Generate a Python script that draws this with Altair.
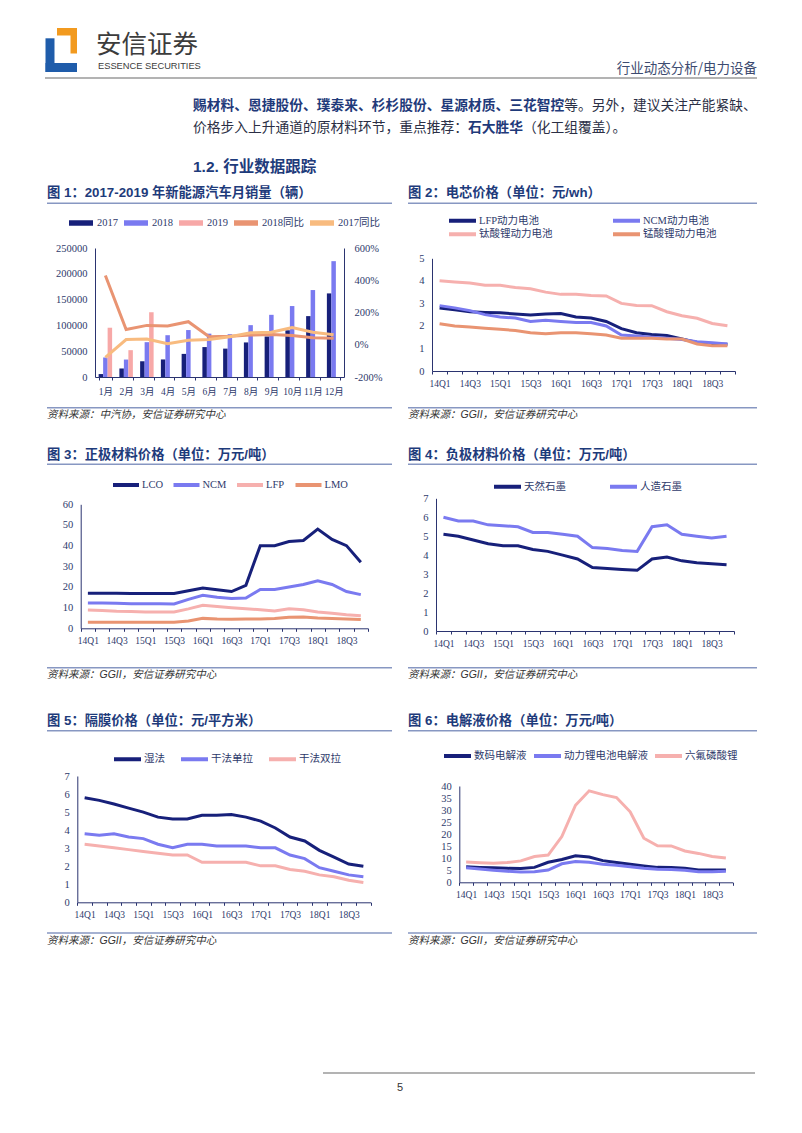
import altair as alt
import pandas as pd

# ---------------- page text ----------------
brand_cn = "安信证券"
brand_en = "ESSENCE SECURITIES"
header_right = "行业动态分析/电力设备"
body_line1 = [("赐材料、恩捷股份、璞泰来、杉杉股份、星源材质、三花智控", True), ("等。另外，建议关注产能紧缺、", False)]
body_line2 = [("价格步入上升通道的原材料环节，重点推荐：", False), ("石大胜华", True), ("（化工组覆盖）。", False)]
section_title = "1.2. 行业数据跟踪"
page_number = "5"

fig_titles = [
    "图 1：2017-2019 年新能源汽车月销量（辆）",
    "图 2：电芯价格（单位：元/wh）",
    "图 3：正极材料价格（单位：万元/吨）",
    "图 4：负极材料价格（单位：万元/吨）",
    "图 5：隔膜价格（单位：元/平方米）",
    "图 6：电解液价格（单位：万元/吨）",
]
fig_sources = [
    "资料来源：中汽协，安信证券研究中心",
    "资料来源：GGII，安信证券研究中心",
    "资料来源：GGII，安信证券研究中心",
    "资料来源：GGII，安信证券研究中心",
    "资料来源：GGII，安信证券研究中心",
    "资料来源：GGII，安信证券研究中心",
]

# ---------------- chart 1 data ----------------
months = ["1月", "2月", "3月", "4月", "5月", "6月", "7月", "8月", "9月", "10月", "11月", "12月"]
bar_series = ["2017", "2018", "2019"]
line_series = ["2018同比", "2017同比"]
sales_2017 = [5700, 16500, 30500, 34000, 44800, 58000, 55000, 67000, 78500, 90500, 118000, 162000]
sales_2018 = [37800, 33800, 67500, 81000, 91000, 84000, 83000, 100500, 120500, 137500, 168500, 224500]
sales_2019 = [95500, 52000, 125500]
yoy_2018 = [430, 95, 120, 117, 143, 50, 52, 60, 64, 58, 44, 40]
yoy_2017 = [-78, 32, 36, 7, 28, 32, 50, 74, 78, 106, 78, 62]
sales_ticks = [0, 50000, 100000, 150000, 200000, 250000]
pct_ticks = [-200, 0, 200, 400, 600]

# ---------------- quarterly data ----------------
quarters = ["14Q1", "14Q2", "14Q3", "14Q4", "15Q1", "15Q2", "15Q3", "15Q4", "16Q1", "16Q2",
            "16Q3", "16Q4", "17Q1", "17Q2", "17Q3", "17Q4", "18Q1", "18Q2", "18Q3", "18Q4"]

cell_names = ["LFP动力电池", "NCM动力电池", "钛酸锂动力电池", "锰酸锂动力电池"]
cell_lfp = [2.80, 2.72, 2.63, 2.60, 2.58, 2.53, 2.48, 2.53, 2.55, 2.40, 2.35, 2.20, 1.88, 1.70, 1.62, 1.57, 1.42, 1.27, 1.20, 1.19]
cell_ncm = [2.90, 2.80, 2.68, 2.50, 2.40, 2.35, 2.20, 2.25, 2.20, 2.15, 2.15, 2.00, 1.60, 1.55, 1.50, 1.45, 1.40, 1.30, 1.25, 1.20]
cell_lto = [4.00, 3.95, 3.90, 3.80, 3.80, 3.70, 3.65, 3.50, 3.40, 3.40, 3.35, 3.33, 3.00, 2.91, 2.90, 2.63, 2.45, 2.34, 2.11, 2.01]
cell_lmo = [2.10, 2.00, 1.95, 1.90, 1.85, 1.80, 1.70, 1.65, 1.70, 1.70, 1.65, 1.60, 1.45, 1.45, 1.45, 1.42, 1.42, 1.20, 1.12, 1.12]

cath_names = ["LCO", "NCM", "LFP", "LMO"]
cath_lco = [17.0, 17.0, 16.9, 16.8, 16.8, 16.8, 16.8, 18.2, 19.5, 18.7, 17.8, 20.8, 40.0, 40.0, 42.0, 42.5, 48.0, 43.0, 40.0, 32.0]
cath_ncm = [12.3, 12.2, 12.1, 11.9, 11.9, 11.9, 11.8, 14.0, 16.0, 15.0, 14.4, 14.7, 18.8, 18.8, 20.0, 21.2, 23.0, 21.2, 17.8, 16.3]
cath_lfp = [8.9, 8.6, 8.2, 8.1, 7.9, 7.9, 7.9, 9.4, 11.1, 10.5, 10.0, 9.5, 9.0, 8.4, 9.4, 9.0, 7.9, 7.3, 6.6, 6.1]
cath_lmo = [2.9, 2.9, 2.9, 2.9, 2.9, 2.9, 2.9, 3.5, 4.8, 4.5, 4.4, 4.5, 4.5, 4.7, 5.3, 5.5, 5.0, 4.8, 4.5, 4.2]

anode_names = ["天然石墨", "人造石墨"]
anode_nat = [5.1, 5.0, 4.8, 4.6, 4.5, 4.5, 4.3, 4.2, 4.0, 3.8, 3.35, 3.3, 3.25, 3.2, 3.8, 3.9, 3.7, 3.6, 3.55, 3.5]
anode_art = [6.0, 5.8, 5.8, 5.6, 5.55, 5.5, 5.2, 5.2, 5.1, 5.0, 4.4, 4.35, 4.25, 4.2, 5.5, 5.6, 5.1, 5.0, 4.9, 5.0]

sep_names = ["湿法", "干法单拉", "干法双拉"]
sep_wet = [5.8, 5.65, 5.45, 5.22, 5.0, 4.72, 4.62, 4.62, 4.82, 4.82, 4.87, 4.72, 4.5, 4.12, 3.62, 3.4, 2.88, 2.5, 2.12, 2.0]
sep_dry1 = [3.8, 3.72, 3.8, 3.62, 3.53, 3.22, 3.02, 3.22, 3.22, 3.12, 3.12, 3.12, 3.02, 3.02, 2.62, 2.42, 1.92, 1.72, 1.52, 1.42]
sep_dry2 = [3.22, 3.12, 3.02, 2.92, 2.82, 2.72, 2.62, 2.62, 2.22, 2.22, 2.22, 2.22, 2.02, 2.02, 1.82, 1.72, 1.52, 1.42, 1.22, 1.1]

ele_names = ["数码电解液", "动力锂电池电解液", "六氟磷酸锂"]
ele_digital = [6.5, 6.2, 6.0, 5.8, 5.7, 6.2, 8.3, 9.5, 11.0, 10.5, 9.0, 8.2, 7.5, 6.8, 6.2, 6.1, 5.8, 5.1, 5.1, 5.1]
ele_power = [6.0, 5.5, 5.0, 4.6, 4.3, 4.4, 5.1, 7.7, 8.6, 8.3, 7.5, 7.1, 6.5, 5.8, 5.4, 5.3, 5.0, 4.4, 4.4, 4.6]
ele_lipf6 = [8.4, 8.1, 7.9, 8.2, 8.9, 10.7, 11.3, 19.0, 32.0, 38.0, 36.4, 35.2, 29.3, 18.3, 15.2, 15.1, 13.0, 12.0, 10.7, 10.1]

# ---------------- styles ----------------
NAVY = "#17207A"
PERI = "#7A7AF0"
PINK = "#F6B0AE"
SALMON = "#E99472"
LORANGE = "#F8BB7F"
BAR19 = "#F7A8A7"
TITLE_C = "#1E3B7B"
RULE_C = "#8797C2"
AXIS_C = "#2B3470"
LABEL_C = "#2E3A6B"
SERIF = "Liberation Serif, Noto Sans CJK SC"
SANS = "Liberation Sans, Noto Sans CJK SC"
CJK = "Noto Sans CJK SC"
PW = 393  # panel width
QEXPR = "(substring(datum.value, 3, 4) == '1' || substring(datum.value, 3, 4) == '3') ? datum.value : ''"

one = pd.DataFrame({"k": [0]})


def text_layer(txt, x, y, size, color, weight="normal", style="normal", align="left", font=CJK):
    return alt.Chart(pd.DataFrame({"t": [txt]})).mark_text(
        align=align, baseline="middle", fontSize=size, color=color,
        fontWeight=weight, fontStyle=style, font=font
    ).encode(x=alt.value(x), y=alt.value(y), text="t:N")


def hrule(x1, x2, y, color, width):
    return alt.Chart(one).mark_rule(color=color, strokeWidth=width).encode(
        x=alt.value(x1), x2=alt.value(x2), y=alt.value(y))


def box(x1, x2, y1, y2, color):
    return alt.Chart(one).mark_rect(color=color).encode(
        x=alt.value(x1), x2=alt.value(x2), y=alt.value(y1), y2=alt.value(y2))


def x_axis(offset, expr=None, pad=4, size=9.5):
    kw = dict(orient="bottom", offset=offset, title=None, labelFont=SERIF, labelFontSize=size,
              labelColor=LABEL_C, domainColor=AXIS_C, domainWidth=1, tickColor=AXIS_C,
              tickSize=3, labelPadding=pad, tickBand="extent", labelAngle=0,
              labelOverlap=False, grid=False)
    if expr:
        kw["labelExpr"] = expr
    return alt.Axis(**kw)


def y_axis(offset, values, orient="left", fmt=None, expr=None, pad=8):
    kw = dict(orient=orient, offset=offset, values=values, title=None, labelFont=SERIF,
              labelFontSize=10.5, labelColor=LABEL_C, domainColor=AXIS_C, domainWidth=1,
              tickSize=0, labelPadding=pad, grid=False)
    if fmt:
        kw["format"] = fmt
    if expr:
        kw["labelExpr"] = expr
    return alt.Axis(**kw)


def decorations(idx, left, title_y, rule_y, src_rule_y, src_y):
    tx = 39 if left else 7
    rx2 = 384 if left else 356
    return [
        text_layer(fig_titles[idx], tx, title_y, 13.3, TITLE_C, weight="bold", font=SANS),
        hrule(tx, rx2, rule_y, RULE_C, 1.6),
        hrule(tx, rx2, src_rule_y, RULE_C, 1.6),
        text_layer(fig_sources[idx], tx, src_y, 10.5, "#333333", style="italic", font=SANS),
    ]


def line_panel(idx, left, names, colors, values, H, xr, yr, ydom, yvals, leg, pos):
    rows = [{"q": q, "series": s, "v": v}
            for s, vals in zip(names, values) for q, v in zip(quarters, vals)]
    df = pd.DataFrame(rows)
    legend_kw = dict(orient="none", direction="horizontal", title=None, symbolType="stroke",
                     symbolStrokeWidth=4, clipHeight=13, labelFont=SERIF, labelFontSize=10.5,
                     labelColor=LABEL_C, labelOffset=1, padding=0)
    legend_kw.update(leg)
    lines = alt.Chart(df).mark_line(strokeWidth=3).encode(
        x=alt.X("q:N", sort=quarters, bandPosition=0.5,
                scale=alt.Scale(type="band", domain=quarters, range=xr, paddingInner=0, paddingOuter=0),
                axis=x_axis(-(H - yr[0]), QEXPR)),
        y=alt.Y("v:Q", scale=alt.Scale(domain=ydom, range=yr, nice=False, zero=False),
                axis=y_axis(-xr[0], yvals)),
        color=alt.Color("series:N", sort=names, scale=alt.Scale(domain=names, range=colors),
                        legend=alt.Legend(**legend_kw)),
    )
    return alt.layer(lines, *decorations(idx, left, *pos)).properties(width=PW, height=H)


# ---------------- panel 1 ----------------
bar_rows = []
for yr_name, vals in zip(bar_series, [sales_2017, sales_2018, sales_2019]):
    for m, v in zip(months, vals):
        bar_rows.append({"m": m, "series": yr_name, "sales": v})
df_bars = pd.DataFrame(bar_rows)
yoy_rows = []
for s, vals in zip(line_series, [yoy_2018, yoy_2017]):
    for m, v in zip(months, vals):
        yoy_rows.append({"m": m, "series": s, "pct": v})
df_yoy = pd.DataFrame(yoy_rows)

c1_domain = bar_series + line_series
c1_scale = alt.Scale(domain=c1_domain, range=[NAVY, PERI, BAR19, SALMON, LORANGE])
x1_scale = alt.Scale(type="band", domain=months, range=[87, 336], paddingInner=0.35, paddingOuter=0.175)
x1_axis = x_axis(-63, None, pad=6, size=9.5)

bars = alt.Chart(df_bars).mark_bar().encode(
    x=alt.X("m:N", sort=months, scale=x1_scale, axis=x1_axis),
    xOffset=alt.XOffset("series:N", sort=bar_series, scale=alt.Scale(domain=bar_series)),
    y=alt.Y("sales:Q", scale=alt.Scale(domain=[0, 250000], range=[192, 63], nice=False),
            axis=y_axis(-87, sales_ticks, fmt="d")),
    color=alt.Color("series:N", scale=c1_scale, legend=alt.Legend(
        orient="none", legendX=61, legendY=31.5, direction="horizontal", title=None,
        symbolType="M-1,-0.22H1V0.22H-1Z", symbolSize=576, symbolStrokeWidth=0,
        clipHeight=13, labelFont=SERIF, labelFontSize=10.5, labelColor=LABEL_C,
        labelOffset=4, columnPadding=6, padding=0)),
)
yoy_lines = alt.Chart(df_yoy).mark_line(strokeWidth=3).encode(
    x=alt.X("m:N", sort=months, bandPosition=0.5, scale=x1_scale, axis=x1_axis),
    y=alt.Y("pct:Q", scale=alt.Scale(domain=[-200, 600], range=[192, 63], nice=False, zero=False),
            axis=y_axis(-57, pct_ticks, orient="right", expr="datum.value + '%'", pad=10)),
    color=alt.Color("series:N", scale=c1_scale, legend=None),
)
panel1 = alt.layer(bars, yoy_lines, *decorations(0, True, 8.3, 18.3, 222.7, 229.5)).resolve_scale(
    y="independent").properties(width=PW, height=255)

# ---------------- panels 2-6 ----------------
panel2 = line_panel(1, False, cell_names, [NAVY, PERI, PINK, SALMON],
                    [cell_lfp, cell_ncm, cell_lto, cell_lmo], 255,
                    [31, 334], [186, 73.3], [0, 5], [0, 1, 2, 3, 4, 5],
                    dict(legendX=46, legendY=29.2, columns=2, columnPadding=58, rowPadding=0.6,
                         symbolSize=729),
                    (8.3, 18.3, 222.7, 229.5))
panel3 = line_panel(2, True, cath_names, [NAVY, PERI, PINK, SALMON],
                    [cath_lco, cath_ncm, cath_lfp, cath_lmo], 260,
                    [72.7, 360], [188.3, 64.3], [0, 60], [0, 10, 20, 30, 40, 50, 60],
                    dict(legendX=103, legendY=38.5, columnPadding=8.5, symbolSize=676),
                    (15, 24.3, 227.7, 235))
panel4 = line_panel(3, False, anode_names, [NAVY, PERI],
                    [anode_nat, anode_art], 260,
                    [35, 333], [191, 58.3], [0, 7], [0, 1, 2, 3, 4, 5, 6, 7],
                    dict(legendX=91, legendY=40.2, columnPadding=42, symbolSize=729),
                    (15, 24.3, 227.7, 235))
panel5 = line_panel(4, True, sep_names, [NAVY, PERI, PINK],
                    [sep_wet, sep_dry1, sep_dry2], 260,
                    [69.3, 362.7], [202.3, 76], [0, 7], [0, 1, 2, 3, 4, 5, 6, 7],
                    dict(legendX=104, legendY=52.8, columnPadding=14, symbolSize=729),
                    (21, 30.7, 233, 240.7))
panel6 = line_panel(5, False, ele_names, [NAVY, PERI, PINK],
                    [ele_digital, ele_power, ele_lipf6], 260,
                    [58.3, 331.7], [182.3, 86], [0, 40], [0, 5, 10, 15, 20, 25, 30, 35, 40],
                    dict(legendX=41, legendY=49.5, columnPadding=5, symbolSize=729),
                    (21, 30.7, 233, 240.7))

# ---------------- header ----------------
BLUE = "#1F5CAA"
ORANGE = "#F29A1F"
BODY_B = "#1F3A7A"
BODY_R = "#2B2F45"
FS = 13.75
hdr = [
    box(37.5, 46.5, 30.3, 64, BLUE),
    box(37.5, 69, 55, 64, BLUE),
    box(49, 69, 20, 27.5, ORANGE),
    box(62.5, 69, 20, 45.5, ORANGE),
    text_layer(brand_cn, 88, 37, 25.5, "#3C3C3C"),
    text_layer(brand_en, 90, 58, 9.3, "#3C3C3C", font="Liberation Sans"),
    text_layer(header_right, 749, 61, 13.5, "#3D4B70", align="right"),
    hrule(37, 749, 70, "#9A9A9A", 1.5),
    text_layer(section_title, 185, 159, 15.5, TITLE_C, weight="bold", font=SANS),
]
for line, yy in ((body_line1, 98), (body_line2, 120)):
    xx = 185
    for seg, bold in line:
        hdr.append(text_layer(seg, xx, yy, FS, BODY_B if bold else BODY_R,
                              weight="bold" if bold else "normal"))
        xx += len(seg) * FS
header = alt.layer(*hdr).properties(width=786, height=177)

footer = alt.layer(
    hrule(315, 747, 113, "#9A9A9A", 1.5),
    text_layer(page_number, 392, 128, 11, "#333333", align="center", font="Liberation Sans"),
).properties(width=786, height=160)

row1 = alt.hconcat(panel1, panel2, spacing=0).resolve_scale(color="independent")
row2 = alt.hconcat(panel3, panel4, spacing=0).resolve_scale(color="independent")
row3 = alt.hconcat(panel5, panel6, spacing=0).resolve_scale(color="independent")

chart = alt.vconcat(header, row1, row2, row3, footer, spacing=0).resolve_scale(
    color="independent").properties(padding=0).configure_view(stroke=None)

chart.save("out.html", embed_options={"renderer": "svg", "actions": False})
